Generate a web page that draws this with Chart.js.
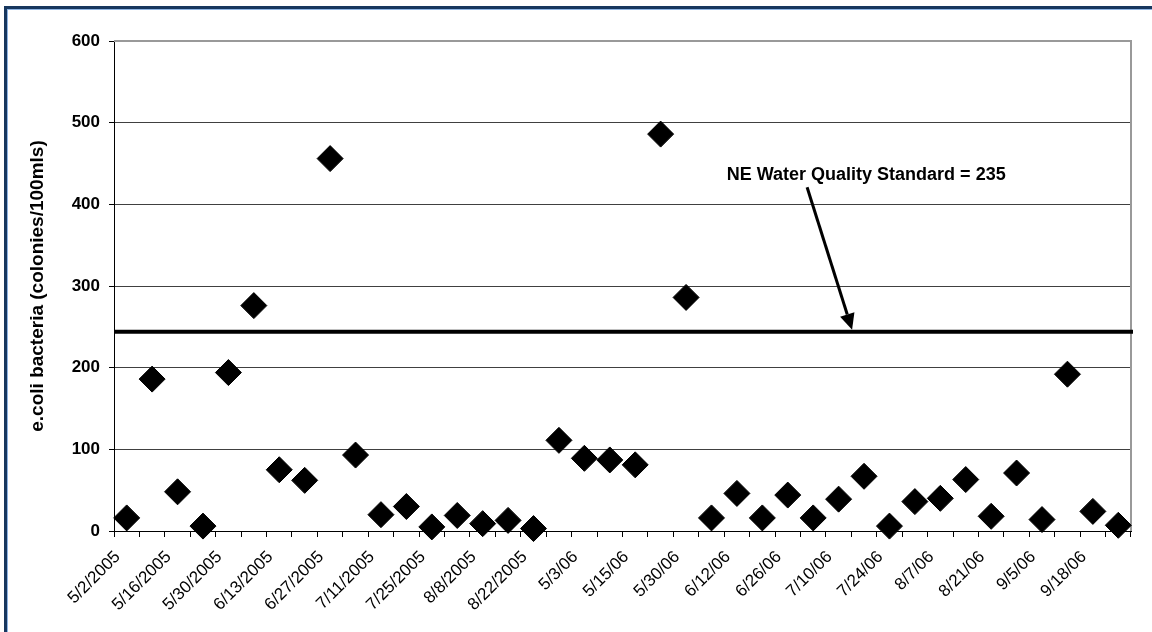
<!DOCTYPE html>
<html><head><meta charset="utf-8">
<script src="https://cdn.jsdelivr.net/npm/chart.js@4/dist/chart.umd.min.js"></script>
<style>
html,body{margin:0;padding:0;background:#fff;}
#wrap{position:relative;width:1152px;height:632px;overflow:hidden;background:#fff;}
#frame{position:absolute;left:4px;top:6px;width:1300px;height:800px;border-top:3px solid #17375e;border-left:3px solid #17375e;box-sizing:border-box;pointer-events:none;box-shadow:inset 1px 1px 0 #8eb4e3;}
canvas{position:absolute;left:0;top:0;}
</style></head><body>
<div id="wrap"><canvas id="c" width="1152" height="632"></canvas><div id="frame"></div></div>
<script>
// Tick labels shown on every other category
const tickLabels = ["5/2/2005","5/16/2005","5/30/2005","6/13/2005","6/27/2005","7/11/2005","7/25/2005","8/8/2005","8/22/2005","5/3/06","5/15/06","5/30/06","6/12/06","6/26/06","7/10/06","7/24/06","8/7/06","8/21/06","9/5/06","9/18/06"];
// e.coli values (colonies/100mls), one per sampling date
const ecoli = [16,186,48,6,194,276,75,62,456,93,20,30,5,19,9,13,3,111,89,87,81,486,286,16,46,16,44,16,39,67,6,36,40,63,18,71,14,192,24,7];
const yTicks = [0,100,200,300,400,500,600];
const standardLine = 244;
const standardText = "NE Water Quality Standard = 235";
const yTitle = "e.coli bacteria (colonies/100mls)";

const categories = [];
tickLabels.forEach(function(t){ categories.push(t); categories.push(""); });

const FONT = "'Liberation Sans', Arial, sans-serif";

const decor = {
  id: 'decor',
  beforeDatasetsDraw(chart) {
    const {ctx, chartArea: a} = chart;
    ctx.save();
    ctx.strokeStyle = '#999';
    ctx.lineWidth = 2;
    ctx.beginPath();
    ctx.moveTo(a.left, a.top);
    ctx.lineTo(a.right, a.top);
    ctx.lineTo(a.right, a.bottom);
    ctx.stroke();
    ctx.restore();
  },
  afterDatasetsDraw(chart) {
    const {ctx, chartArea: a, scales: {x, y}} = chart;
    ctx.save();
    // standard line
    const ly = y.getPixelForValue(standardLine);
    ctx.strokeStyle = '#000';
    ctx.lineWidth = 4;
    ctx.beginPath();
    ctx.moveTo(a.left, ly);
    ctx.lineTo(a.right + 2, ly);
    ctx.stroke();
    // arrow
    const x0 = x.getPixelForValue(26.76), y0 = y.getPixelForValue(421);
    const x1 = x.getPixelForValue(28.53), y1 = ly - 2;
    const ang = Math.atan2(y1 - y0, x1 - x0);
    const hl = 16, hw = 7.5;
    const bx = x1 - hl * Math.cos(ang), by = y1 - hl * Math.sin(ang);
    ctx.lineWidth = 3;
    ctx.beginPath();
    ctx.moveTo(x0, y0);
    ctx.lineTo(bx, by);
    ctx.stroke();
    ctx.fillStyle = '#000';
    ctx.beginPath();
    ctx.moveTo(x1, y1);
    ctx.lineTo(bx + hw * Math.sin(ang), by - hw * Math.cos(ang));
    ctx.lineTo(bx - hw * Math.sin(ang), by + hw * Math.cos(ang));
    ctx.closePath();
    ctx.fill();
    // text
    ctx.font = "bold 18px " + FONT;
    ctx.textAlign = 'left';
    ctx.textBaseline = 'alphabetic';
    ctx.fillText(standardText, x.getPixelForValue(23.6), y.getPixelForValue(430));
    ctx.restore();
  }
};

new Chart(document.getElementById('c'), {
  type: 'line',
  data: {
    labels: categories,
    datasets: [{
      data: ecoli,
      showLine: false,
      pointStyle: 'rectRot',
      pointRadius: 13,
      pointHoverRadius: 13,
      backgroundColor: '#000',
      borderColor: '#000',
      borderWidth: 1,
      clip: false
    }]
  },
  options: {
    responsive: false,
    animation: false,
    devicePixelRatio: 1,
    events: [],
    layout: { padding: { left: 0, top: 41, right: 21, bottom: 0 } },
    plugins: { legend: { display: false }, tooltip: { enabled: false } },
    scales: {
      x: {
        type: 'category',
        offset: true,
        grid: { offset: true, drawOnChartArea: false, color: '#000', tickLength: 6, lineWidth: 1 },
        border: { color: '#000', width: 1 },
        ticks: {
          autoSkip: false, minRotation: 45, maxRotation: 45,
          color: '#000', padding: 10, labelOffset: -9,
          font: { family: FONT, size: 17 }
        },
        afterFit(s) { s.height = 101; }
      },
      y: {
        min: 0, max: 600,
        afterBuildTicks(s) { s.ticks = yTicks.map(v => ({ value: v })); },
        grid: { color: '#404040', tickColor: '#000', tickLength: 5, lineWidth: 1 },
        border: { color: '#000', width: 1 },
        ticks: { color: '#000', padding: 9, font: { family: FONT, size: 17, weight: 'bold' } },
        title: { display: true, text: yTitle, color: '#000', padding: { top: 26, bottom: 0 }, font: { family: FONT, size: 19, weight: 'bold' } },
        afterFit(s) { s.width = 114; }
      }
    }
  },
  plugins: [decor]
});
</script>
</body></html>
